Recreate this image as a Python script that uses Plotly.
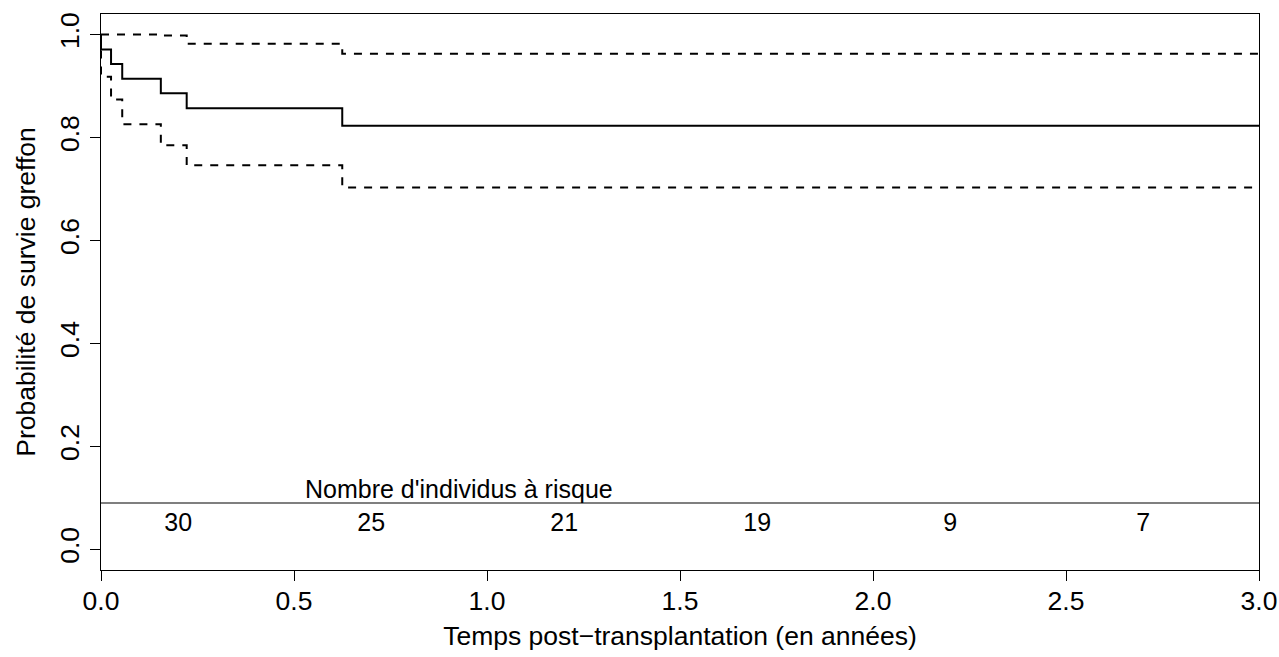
import plotly.graph_objects as go

# Kaplan-Meier estimate (step function) and 95% CI
times = [0.0, 0.0, 0.026, 0.055, 0.155, 0.222, 0.625, 3.0]
surv = [1.0, 0.971, 0.943, 0.914, 0.886, 0.857, 0.823, 0.823]
upper = [1.0, 1.0, 1.0, 1.0, 0.998, 0.982, 0.963, 0.963]
lower = [1.0, 0.918, 0.874, 0.826, 0.785, 0.746, 0.703, 0.703]

# Number at risk table
risk_times = [0.0, 0.5, 1.0, 1.5, 2.0, 2.5]
risk_counts = [30, 25, 21, 19, 9, 7]
risk_title = "Nombre d'individus à risque"
risk_line_y = 0.09
risk_text_y = 0.047
risk_title_y = 0.118
risk_offset = 0.2

x_ticks = [0.0, 0.5, 1.0, 1.5, 2.0, 2.5, 3.0]
y_ticks = [0.0, 0.2, 0.4, 0.6, 0.8, 1.0]

FONT = "Liberation Sans, Arial, Helvetica, sans-serif"

fig = go.Figure()
fig.add_trace(go.Scatter(x=times, y=upper, mode="lines", line=dict(color="black", width=2, dash="8px,8px", shape="hv"), showlegend=False, hoverinfo="skip"))
fig.add_trace(go.Scatter(x=times, y=lower, mode="lines", line=dict(color="black", width=2, dash="8px,8px", shape="hv"), showlegend=False, hoverinfo="skip"))
fig.add_trace(go.Scatter(x=times, y=surv, mode="lines", line=dict(color="black", width=2, shape="hv"), showlegend=False))

# risk table
fig.add_trace(go.Scatter(x=[0, 3], y=[risk_line_y, risk_line_y], mode="lines", line=dict(color="#555555", width=1.5), showlegend=False, hoverinfo="skip"))
fig.add_trace(go.Scatter(x=[t + risk_offset for t in risk_times], y=[risk_text_y] * len(risk_times),
                         text=[str(c) for c in risk_counts], mode="text",
                         textfont=dict(family=FONT, size=25, color="black"), showlegend=False, hoverinfo="skip"))
fig.add_annotation(x=0.927, y=risk_title_y, xref="x", yref="y", text=risk_title, showarrow=False,
                   font=dict(family=FONT, size=25, color="black"))

fig.update_xaxes(range=[0, 3], tickvals=x_ticks, ticktext=[f"{v:.1f}" for v in x_ticks], automargin=False,
                 showgrid=False, zeroline=False, showline=True, linecolor="black", linewidth=1.3, mirror=True,
                 ticks="outside", ticklen=10, tickwidth=1.3, tickcolor="black", ticklabelstandoff=-3,
                 tickfont=dict(family=FONT, size=26.5, color="black"),
                 title=dict(text="Temps post−transplantation (en années)", font=dict(family=FONT, size=26.5, color="black"), standoff=11))
fig.update_yaxes(range=[-0.04, 1.04], tickvals=y_ticks, ticktext=[f"{v:.1f}" for v in y_ticks], tickangle=-90, automargin=False,
                 showgrid=False, zeroline=False, showline=True, linecolor="black", linewidth=1.3, mirror=True,
                 ticks="outside", ticklen=10, tickwidth=1.3, tickcolor="black",
                 tickfont=dict(family=FONT, size=26.5, color="black"),
                 title=dict(text="Probabilité de survie greffon", font=dict(family=FONT, size=26.5, color="black"), standoff=11))
fig.update_layout(width=1279, height=657, margin=dict(l=101, r=20, t=14, b=87),
                  plot_bgcolor="white", paper_bgcolor="white")
fig.write_html("out.html")
